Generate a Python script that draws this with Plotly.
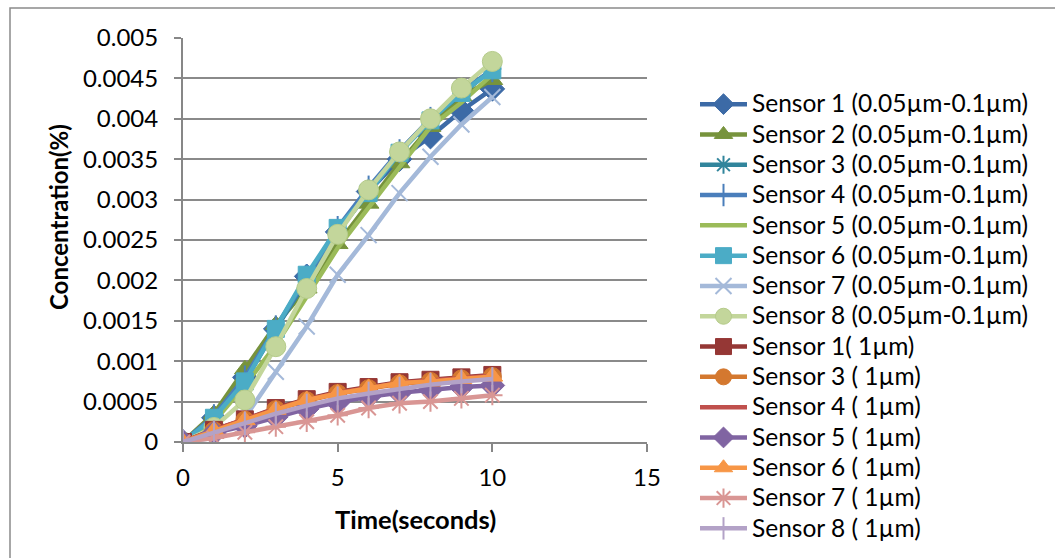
import plotly.graph_objects as go

time_s = [0, 1, 2, 3, 4, 5, 6, 7, 8, 9, 10]

f1 = [0, 0.00030, 0.00080, 0.00140, 0.00205, 0.00260, 0.00310, 0.00350, 0.00378, 0.00410, 0.00437]
f2 = [0, 0.00035, 0.00090, 0.00145, 0.00190, 0.00245, 0.00295, 0.00345, 0.00390, 0.00428, 0.00448]
f3 = [0, 0.00030, 0.00075, 0.00140, 0.00200, 0.00260, 0.00310, 0.00360, 0.00400, 0.00430, 0.00462]
f4 = [0, 0.00032, 0.00080, 0.00142, 0.00205, 0.00265, 0.00315, 0.00360, 0.00400, 0.00435, 0.00460]
f5 = [0, 0.00025, 0.00070, 0.00120, 0.00180, 0.00240, 0.00290, 0.00340, 0.00390, 0.00420, 0.00455]
f6 = [0, 0.00030, 0.00075, 0.00140, 0.00207, 0.00265, 0.00308, 0.00358, 0.00398, 0.00432, 0.00460]
f7 = [0, 0.00005, 0.00030, 0.00087, 0.00143, 0.00207, 0.00256, 0.00308, 0.00353, 0.00393, 0.00427]
f8 = [0, 0.00018, 0.00052, 0.00118, 0.00190, 0.00257, 0.00312, 0.00359, 0.00400, 0.00438, 0.00471]

c1 = [0, 0.00015, 0.00028, 0.00042, 0.00053, 0.00062, 0.00068, 0.00074, 0.00077, 0.00080, 0.00083]
c3 = [0, 0.00014, 0.00027, 0.00040, 0.00051, 0.00060, 0.00066, 0.00072, 0.00075, 0.00078, 0.00081]
c4 = [0, 0.00015, 0.00028, 0.00041, 0.00052, 0.00061, 0.00067, 0.00073, 0.00076, 0.00079, 0.00082]
c5 = [0, 0.00011, 0.00020, 0.00031, 0.00041, 0.00049, 0.00056, 0.00061, 0.00065, 0.00068, 0.00070]
c6 = [0, 0.00014, 0.00027, 0.00040, 0.00052, 0.00060, 0.00067, 0.00073, 0.00075, 0.00078, 0.00081]
c7 = [0, 0.00005, 0.00012, 0.00019, 0.00025, 0.00033, 0.00042, 0.00048, 0.00050, 0.00054, 0.00058]
c8 = [0, 0.00012, 0.00023, 0.00035, 0.00045, 0.00054, 0.00060, 0.00066, 0.00071, 0.00075, 0.00078]

series_names = [
    "Sensor 1 (0.05µm-0.1µm)", "Sensor 2 (0.05µm-0.1µm)", "Sensor 3 (0.05µm-0.1µm)",
    "Sensor 4 (0.05µm-0.1µm)", "Sensor 5 (0.05µm-0.1µm)", "Sensor 6 (0.05µm-0.1µm)",
    "Sensor 7 (0.05µm-0.1µm)", "Sensor 8 (0.05µm-0.1µm)",
    "Sensor 1( 1µm)", "Sensor 3 ( 1µm)", "Sensor 4 ( 1µm)", "Sensor 5 ( 1µm)",
    "Sensor 6 ( 1µm)", "Sensor 7 ( 1µm)", "Sensor 8 ( 1µm)",
]
series_values = [f1, f2, f3, f4, f5, f6, f7, f8, c1, c3, c4, c5, c6, c7, c8]

y_tickvals = [0, 0.0005, 0.001, 0.0015, 0.002, 0.0025, 0.003, 0.0035, 0.004, 0.0045, 0.005]
y_ticktext = ["0", "0.0005", "0.001", "0.0015", "0.002", "0.0025", "0.003", "0.0035", "0.004", "0.0045", "0.005"]
x_tickvals = [0, 5, 10, 15]
x_title = "Time(seconds)"
y_title = "Concentration(%)"

# style per series: (line colour, marker symbol, marker size, marker fill, marker line colour, marker line width)
styles = [
    ("#3C6AA6", "diamond", 19, "#3C6AA6", "#3C6AA6", 1),
    ("#77933C", "triangle-up", 18, "#77933C", "#77933C", 1),
    ("#31859C", "asterisk", 15, "#31859C", "#31859C", 2),
    ("#4A7EBB", "line-ns", 17, "#4A7EBB", "#4A7EBB", 2),
    ("#9BBB59", None, 0, None, None, 0),
    ("#4BACC6", "square", 17, "#4BACC6", "#4BACC6", 1),
    ("#A4B9D9", "x-thin", 16, "#A4B9D9", "#A4B9D9", 2),
    ("#C3D69B", "circle", 20, "#C3D69B", "#B5CB8A", 1),
    ("#953735", "square", 17, "#953735", "#953735", 1),
    ("#D4782F", "circle", 18, "#D4782F", "#D4782F", 1),
    ("#C0504D", None, 0, None, None, 0),
    ("#8064A2", "diamond", 19, "#8064A2", "#8064A2", 1),
    ("#F79646", "triangle-up", 18, "#F79646", "#F79646", 1),
    ("#D99694", "asterisk", 17, "#D99694", "#D99694", 2),
    ("#B3A2C7", "line-ns", 17, "#B3A2C7", "#B3A2C7", 2),
]

fig = go.Figure()
for name, vals, st in zip(series_names, series_values, styles):
    color, sym, size, fill, mlc, mlw = st
    label = '<span style="font-size:24.5px">' + name + '</span>'
    if sym is None:
        fig.add_trace(go.Scatter(x=time_s, y=vals, name=label, mode="lines",
                                 line=dict(color=color, width=4.5)))
    else:
        fig.add_trace(go.Scatter(x=time_s, y=vals, name=label, mode="lines+markers",
                                 line=dict(color=color, width=4.5),
                                 marker=dict(symbol=sym, size=size, color=fill,
                                             line=dict(color=mlc, width=mlw))))

W, H = 1055, 558
L, R, T, B = 183, 647, 38, 442
pw, ph = R - L, B - T

def px_x(p):
    return (p - L) / pw

def px_y(p):
    return (B - p) / ph

fig.update_layout(
    width=W, height=H,
    margin=dict(l=L, r=W - R, t=T, b=H - B, pad=0, autoexpand=False),
    paper_bgcolor="white", plot_bgcolor="white",
    font=dict(family="Lato", size=24, color="#000000"),
    showlegend=True,
    legend=dict(x=px_x(695), y=px_y(84), xanchor="left", yanchor="top",
                font=dict(family="Lato", size=21, color="#000000"),
                bgcolor="rgba(0,0,0,0)", borderwidth=0, itemwidth=47,
                traceorder="normal", tracegroupgap=0, maxheight=540),
    xaxis=dict(range=[0, 15], tickvals=x_tickvals, showgrid=False, zeroline=False,
               showline=True, linecolor="#878787", linewidth=2,
               ticks="outside", ticklen=8, tickwidth=2, tickcolor="#878787",
               ticklabelstandoff=5),
    yaxis=dict(range=[0, 0.005], tickvals=y_tickvals, ticktext=y_ticktext,
               showgrid=True, gridcolor="#8A8A8A", gridwidth=2, zeroline=False,
               showline=True, linecolor="#878787", linewidth=2,
               ticks="outside", ticklen=7, tickwidth=2, tickcolor="#878787",
               ticklabelstandoff=11),
    annotations=[
        dict(text="<b>" + x_title + "</b>", xref="paper", yref="paper",
             x=px_x(415), y=px_y(519), xanchor="center", yanchor="middle",
             showarrow=False, font=dict(family="Lato", size=25.5, color="#000000")),
        dict(text="<b>" + y_title + "</b>", xref="paper", yref="paper",
             x=px_x(59), y=px_y(217), xanchor="center", yanchor="middle",
             textangle=-90, showarrow=False,
             font=dict(family="Lato", size=24, color="#000000")),
    ],
    shapes=[dict(type="rect", xref="paper", yref="paper",
                 x0=px_x(10), x1=px_x(1070), y0=px_y(575), y1=px_y(8),
                 line=dict(color="#8A8A8A", width=1.5), fillcolor="rgba(0,0,0,0)",
                 layer="below")],
)

fig.write_html("out.html")
